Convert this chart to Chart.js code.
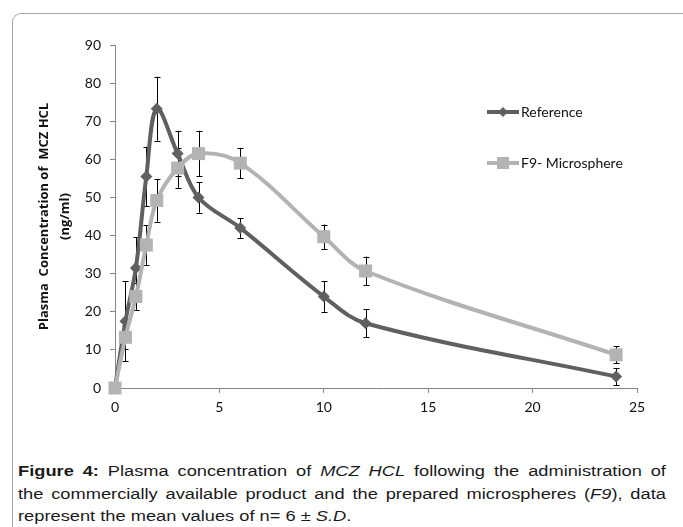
<!DOCTYPE html>
<html>
<head>
<meta charset="utf-8">
<script src="https://cdn.jsdelivr.net/npm/chart.js@4/dist/chart.umd.min.js"></script>
<style>
  html, body { margin: 0; padding: 0; background: #fff; width: 683px; height: 527px; overflow: hidden; }
  #frame { position: absolute; left: 12px; top: 13px; width: 700px; height: 540px;
           border-left: 1.5px solid #a6a6a6; border-top: 1.5px solid #a6a6a6; border-top-left-radius: 9px; }
  #wrap { position: absolute; left: 0; top: 0; width: 683px; height: 450px; }
  .cap { position: absolute; left: 18px; width: 550px; font-family: "Liberation Sans", Arial, sans-serif;
         font-size: 15.5px; line-height: 18px; color: #1a1a1a; white-space: nowrap;
         transform: scaleX(1.178); transform-origin: 0 0; }
  .just { text-align: justify; text-align-last: justify; white-space: normal; }
</style>
</head>
<body>
<div id="frame"></div>
<div id="wrap"><canvas id="c" width="683" height="450"></canvas></div>
<div class="cap just" style="top:462px;"><b>Figure 4:</b> Plasma concentration of <i>MCZ HCL</i> following the administration of</div>
<div class="cap just" style="top:485px;">the commercially available product and the prepared microspheres (<i>F9</i>), data</div>
<div class="cap" style="top:507px;">represent the mean values of n= 6 ± <i>S.D</i>.</div>
<script>
const times   = [0, 0.5, 1, 1.5, 2, 3, 4, 6, 10, 12, 24];
const refVals = [0, 17.5, 31.5, 55.5, 73.3, 61.5, 50, 42, 24, 17, 3];
const refSD   = [0, 10.5, 8, 7.8, 8.4, 6, 4, 2.6, 4, 3.6, 2.2];
const f9Vals  = [0, 13.3, 24, 37.5, 49.2, 57.7, 61.5, 59, 39.7, 30.7, 8.7];
const f9SD    = [0, 3, 3.5, 5.2, 5.6, 5.2, 6, 4, 3.2, 3.8, 2.2];
const seriesNames = ["Reference", "F9- Microsphere"];
const xTicks = [0, 5, 10, 15, 20, 25];
const yTicks = [0, 10, 20, 30, 40, 50, 60, 70, 80, 90];

const sdMap = [refSD, f9SD];
const REF_COL = '#606060', F9_COL = '#b3b3b3', AXIS_COL = '#868686';
const tickFont = { family: 'Lato, "Liberation Sans", sans-serif', size: 14 };

const errorBars = {
  id: 'errorBars',
  beforeDatasetsDraw(chart) {
    const ctx = chart.ctx, ys = chart.scales.y;
    ctx.save();
    ctx.strokeStyle = '#000'; ctx.lineWidth = 1;
    chart.data.datasets.forEach((ds, di) => {
      const meta = chart.getDatasetMeta(di);
      ds.data.forEach((p, i) => {
        const sd = sdMap[di][i];
        if (!sd) return;
        const x = Math.round(meta.data[i].x) + 0.5;
        const yT = ys.getPixelForValue(p.y + sd), yB = ys.getPixelForValue(Math.max(0, p.y - sd));
        ctx.beginPath();
        ctx.moveTo(x, yT); ctx.lineTo(x, yB);
        ctx.moveTo(x - 3, Math.round(yT) + 0.5); ctx.lineTo(x + 3, Math.round(yT) + 0.5);
        ctx.moveTo(x - 3, Math.round(yB) + 0.5); ctx.lineTo(x + 3, Math.round(yB) + 0.5);
        ctx.stroke();
      });
    });
    ctx.restore();
  }
};

const customLegend = {
  id: 'customLegend',
  afterDraw(chart) {
    const ctx = chart.ctx;
    const rows = [{ y: 112 }, { y: 163 }];
    ctx.save();
    chart.data.datasets.forEach((ds, di) => {
      const y = rows[di].y, x0 = 487, x1 = 519;
      ctx.strokeStyle = ds.borderColor; ctx.lineWidth = ds.borderWidth;
      ctx.beginPath(); ctx.moveTo(x0, y); ctx.lineTo(x1, y); ctx.stroke();
      ctx.fillStyle = ds.pointBackgroundColor;
      const cx = (x0 + x1) / 2;
      ctx.beginPath();
      if (di === 0) {
        const r = 5;
        ctx.moveTo(cx, y - r); ctx.lineTo(cx + r, y); ctx.lineTo(cx, y + r); ctx.lineTo(cx - r, y); ctx.closePath();
      } else {
        ctx.rect(cx - 6, y - 6, 12, 12);
      }
      ctx.fill();
      ctx.fillStyle = '#111';
      ctx.font = '14px Lato, "Liberation Sans", sans-serif';
      ctx.textBaseline = 'middle'; ctx.textAlign = 'left';
      ctx.fillText(ds.label, x1 + 2, y);
    });
    ctx.restore();
  }
};

new Chart(document.getElementById('c'), {
  type: 'line',
  data: {
    datasets: [
      { label: seriesNames[0], data: times.map((t, i) => ({ x: t, y: refVals[i] })),
        borderColor: REF_COL, backgroundColor: REF_COL, pointBackgroundColor: REF_COL, pointBorderColor: REF_COL,
        borderWidth: 4, pointStyle: 'rectRot', pointRadius: 6, pointBorderWidth: 0, tension: 0.35, order: 1, clip: false },
      { label: seriesNames[1], data: times.map((t, i) => ({ x: t, y: f9Vals[i] })),
        borderColor: F9_COL, backgroundColor: F9_COL, pointBackgroundColor: F9_COL, pointBorderColor: F9_COL,
        borderWidth: 4, pointStyle: 'rect', pointRadius: 9.2, pointBorderWidth: 0, tension: 0.35, order: 0, clip: false }
    ]
  },
  options: {
    responsive: false, animation: false, devicePixelRatio: 1,
    layout: { padding: { left: 0, top: 45, right: 46, bottom: 32 } },
    plugins: { legend: { display: false }, tooltip: { enabled: false } },
    scales: {
      x: {
        type: 'linear', min: 0, max: 25,
        afterBuildTicks: s => { s.ticks = xTicks.map(v => ({ value: v })); },
        afterFit: s => { s.height = 30; },
        grid: { drawOnChartArea: false, drawTicks: true, tickLength: 5, color: AXIS_COL },
        border: { display: true, color: AXIS_COL, width: 1 },
        ticks: { font: tickFont, color: '#111', padding: 6, maxRotation: 0 }
      },
      y: {
        type: 'linear', min: 0, max: 90,
        afterBuildTicks: s => { s.ticks = yTicks.map(v => ({ value: v })); },
        afterFit: s => { s.width = 115; },
        grid: { drawOnChartArea: false, drawTicks: true, tickLength: 5, color: AXIS_COL },
        border: { display: true, color: AXIS_COL, width: 1 },
        ticks: { font: tickFont, color: '#111', padding: 9 },
        title: { display: true, text: ['Plasma  Concentration of  MCZ HCL', '(ng/ml)'],
                 font: { family: '"Open Sans", sans-serif', size: 13, weight: 'bold', lineHeight: 1.6 },
                 color: '#111', padding: { top: 34, bottom: 0 } }
      }
    }
  },
  plugins: [errorBars, customLegend]
});
</script>
</body>
</html>
